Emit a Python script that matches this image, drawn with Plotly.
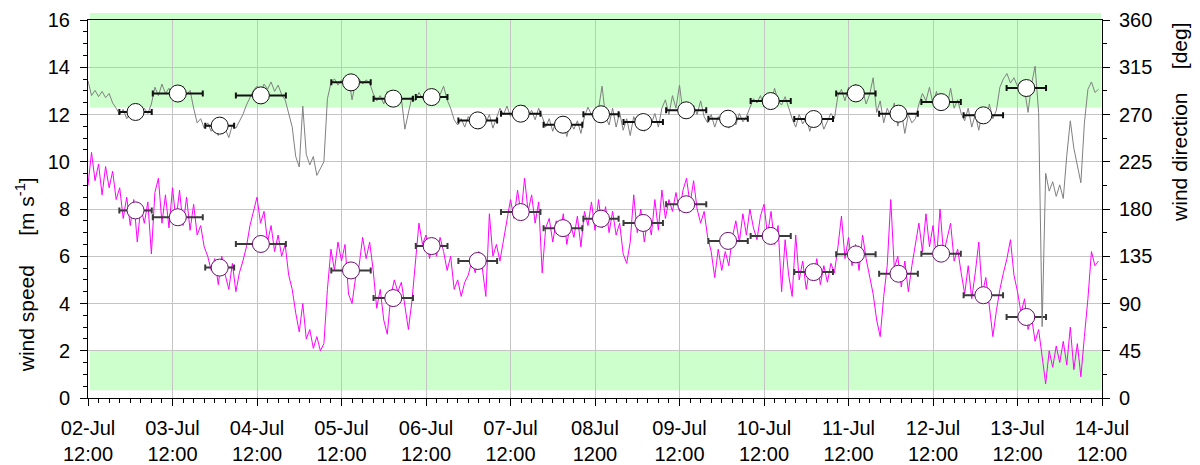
import plotly.graph_objects as go

# Hourly record, hours after 02-Jul 12:00
hours = list(range(288))

wind_speed = [
    9.0, 10.4, 9.2, 9.9, 8.6, 9.8, 8.9, 9.6, 8.4, 8.9, 7.6, 8.5,
    7.3, 8.4, 6.6, 8.1, 7.4, 8.3, 6.1, 8.7, 9.3, 7.4, 8.6, 7.2,
    8.9, 7.5, 8.8, 7.3, 8.5, 7.1, 8.2, 6.9, 7.3, 6.4, 6.0, 5.4,
    5.9, 4.8, 6.0, 5.2, 4.6, 5.7, 4.5, 5.3, 5.8, 6.4, 7.3, 7.9,
    8.5, 7.4, 7.9, 6.6, 7.3, 6.2, 6.9, 6.0, 6.5, 5.2, 4.6, 3.6,
    2.8, 4.0, 2.5, 2.9, 2.1, 2.6, 2.0, 2.3, 4.6, 6.3, 5.4, 6.6,
    5.8, 6.5, 4.4, 4.0, 5.1, 5.6, 6.8, 5.9, 6.6, 5.4, 3.8, 4.6,
    3.3, 2.7, 4.3, 5.0, 4.5, 4.9, 3.9, 2.9, 4.1, 5.6, 7.4, 6.5,
    6.9, 5.9, 6.7, 6.0, 6.8, 6.2, 5.4, 6.0, 4.6, 5.0, 4.3, 4.9,
    5.2, 5.8, 5.3, 6.2, 5.5, 4.3, 7.8, 6.0, 6.5, 5.8, 6.7, 7.5,
    8.4, 7.6, 8.8, 7.8, 9.3, 7.9, 8.6, 7.4, 8.3, 5.3, 7.2, 7.6,
    6.6, 7.5, 6.9, 7.8, 6.5, 7.4, 6.8, 7.7, 6.4, 7.9, 7.3, 8.3,
    7.1, 8.4, 7.2, 8.1, 7.0, 7.9, 6.9, 7.4, 6.1, 5.7, 6.6, 8.6,
    7.0, 8.0, 6.6, 7.6, 6.9, 8.4, 7.1, 8.8, 7.6, 8.4, 7.9, 8.7,
    7.9, 8.8, 9.3, 8.2, 9.2, 8.0, 7.4, 7.9, 6.8, 6.2, 5.1, 6.3,
    5.4, 6.2, 5.6, 6.8, 7.5, 6.6, 7.8, 6.9, 8.0, 7.2, 6.7, 7.7,
    8.2, 6.9, 7.9, 6.5, 7.3, 4.5, 6.7, 5.2, 4.3, 6.9, 5.0, 5.8,
    4.6, 5.5, 5.0, 5.9, 4.8, 5.6, 4.9, 5.7, 5.3, 6.4, 7.7, 5.9,
    6.8, 5.6, 6.5, 5.4, 6.9, 5.9, 5.2, 4.4, 3.3, 2.6, 4.3, 5.6,
    8.4, 5.5, 6.0, 4.7, 5.8, 4.5, 5.6, 6.6, 7.4, 6.2, 7.8, 6.4,
    7.3, 5.9, 8.0, 6.1, 6.8, 7.4, 5.8, 6.3, 5.3, 4.4, 5.6, 4.2,
    5.3, 6.6, 4.4, 5.1, 3.9, 2.6, 3.7, 4.6, 5.3, 5.9, 6.7, 5.2,
    4.5, 3.6, 4.2, 2.9, 3.4, 2.4, 2.9, 1.8, 0.6, 2.0, 1.3, 2.2,
    1.5, 2.4, 1.4, 3.0, 1.2, 2.3, 0.9, 2.6, 4.2, 6.2, 5.6, 5.8,
]

wind_dir = [
    302, 288, 293, 287, 292, 286, 290, 281, 276, 270, 275, 266,
    272, 267, 274, 269, 276, 271, 280, 296, 288, 299, 290, 295,
    287, 294, 286, 297, 289, 293, 276, 262, 266, 257, 262, 254,
    259, 250, 262, 256, 248, 260, 257, 263, 270, 279, 286, 293,
    297, 291, 299, 294, 301, 292, 298, 289, 284, 270, 258, 230,
    220, 278, 232, 222, 230, 212, 218, 225, 285, 300, 304, 298,
    303, 300, 305, 284, 301, 304, 299, 303, 300, 290, 283, 288,
    280, 292, 282, 287, 278, 286, 256, 272, 287, 283, 291, 285,
    287, 293, 286, 291, 289, 297, 284, 276, 265, 260, 266, 258,
    268, 261, 269, 256, 267, 262, 270, 257, 266, 276, 270, 278,
    268, 275, 266, 273, 279, 269, 274, 265, 276, 268, 258, 266,
    254, 265, 258, 262, 249, 263, 256, 264, 252, 268, 277, 270,
    264, 275, 297, 268, 260, 276, 258, 272, 255, 266, 250, 268,
    259, 265, 254, 268, 261, 271, 258, 276, 284, 270, 288, 276,
    298, 272, 281, 268, 279, 270, 283, 268, 262, 270, 258, 268,
    261, 270, 257, 266, 260, 271, 263, 268, 277, 285, 281, 288,
    277, 290, 280, 295, 283, 279, 287, 276, 266, 258, 270, 261,
    267, 254, 265, 259, 268, 256, 264, 271, 266, 288, 294, 283,
    296, 287, 299, 285, 293, 280, 289, 305, 272, 283, 262, 276,
    268, 281, 259, 273, 252, 270, 262, 266, 280, 290, 283, 296,
    280, 292, 274, 287, 278, 295, 276, 284, 271, 264, 276, 258,
    270, 255, 272, 262, 280, 266, 274, 296, 304, 309, 300, 305,
    297, 302, 294, 272, 299, 316, 272, 68, 214, 197, 206, 192,
    203, 190, 231, 264, 238, 222, 205, 262, 294, 301, 291, 294,
]

# Block averages: centre time, half-width of the averaging window (h)
avg_time = [13.5, 25.5, 37.4, 49.1, 74.7, 86.7, 97.6, 110.7, 122.9, 134.9, 145.7,
            157.7, 169.9, 181.8, 193.9, 206.1, 218.1, 230.2, 242.3, 254.3, 266.5]
avg_halfwidth = [4.6, 7.1, 4.1, 7.1, 5.6, 5.6, 4.5, 5.5, 5.6, 5.5, 5.0,
                 5.6, 5.7, 5.6, 5.7, 5.5, 5.6, 5.5, 5.6, 5.6, 5.6]
avg_speed = [7.94, 7.65, 5.52, 6.52, 5.40, 4.23, 6.43, 5.80, 7.87, 7.19, 7.59,
             7.41, 8.20, 6.65, 6.86, 5.33, 6.08, 5.26, 6.11, 4.35, 3.43]
avg_dir = [272.4, 290.0, 259.4, 288.2, 300.6, 285.1, 286.6, 264.4, 270.8, 260.3, 270.2,
           262.8, 274.0, 266.0, 282.8, 265.7, 290.1, 270.8, 281.8, 269.2, 295.2]

tick_hours = [0, 24, 48, 72, 96, 120, 144, 168, 192, 216, 240, 264, 288]
tick_text = ["02-Jul<br>12:00", "03-Jul<br>12:00", "04-Jul<br>12:00", "05-Jul<br>12:00",
             "06-Jul<br>12:00", "07-Jul<br>12:00", "08Jul<br>1200", "09-Jul<br>12:00",
             "10-Jul<br>12:00", "11-Jul<br>12:00", "12-Jul<br>12:00", "13-Jul<br>12:00",
             "14-Jul<br>12:00"]

# Shaded sectors (in wind-speed axis units)
band_upper = (12.3, 16.3)
band_lower = (0.33, 2.02)

FONT = "Liberation Sans, Arial, sans-serif"
Y_MAX = 16.0
X_MAX = 288.0

fig = go.Figure()

fig.add_trace(go.Scatter(x=hours, y=wind_speed, mode="lines",
                         line=dict(color="#FF00FF", width=1), yaxis="y",
                         hoverinfo="skip", showlegend=False))
fig.add_trace(go.Scatter(x=hours, y=wind_dir, mode="lines",
                         line=dict(color="#808080", width=1), yaxis="y2",
                         hoverinfo="skip", showlegend=False))

fig.add_trace(go.Scatter(
    x=avg_time, y=avg_speed, mode="markers", yaxis="y",
    marker=dict(size=17, color="white", line=dict(color="#6a1070", width=1)),
    error_x=dict(type="data", array=avg_halfwidth, color="#3a3a3a", thickness=2, width=3),
    showlegend=False))
fig.add_trace(go.Scatter(
    x=avg_time, y=avg_dir, mode="markers", yaxis="y2",
    marker=dict(size=17, color="white", line=dict(color="#111111", width=1)),
    error_x=dict(type="data", array=avg_halfwidth, color="#111111", thickness=2, width=3),
    showlegend=False))

x0p, x1p = 0.002, 0.999
for lo, hi in (band_upper, band_lower):
    fig.add_shape(type="rect", xref="paper", yref="paper",
                  x0=x0p, x1=x1p, y0=lo / Y_MAX, y1=hi / Y_MAX,
                  fillcolor="#CCFFCC", line=dict(width=0), layer="below")

axis_font = dict(family=FONT, size=20, color="black")

fig.update_layout(
    width=1200, height=465,
    margin=dict(l=88, r=98, t=20, b=67, autoexpand=False),
    paper_bgcolor="white", plot_bgcolor="rgba(0,0,0,0)",
    font=dict(family=FONT, size=20, color="black"),
    xaxis=dict(
        range=[0, X_MAX], tickmode="array", tickvals=tick_hours, ticktext=tick_text,
        ticks="outside", ticklen=7, tickwidth=1, tickcolor="black",
        showline=True, linecolor="black", linewidth=1, mirror=True,
        showgrid=True, gridcolor="#c4c4c4", gridwidth=1, zeroline=False,
        tickfont=axis_font, ticklabelstandoff=5, automargin=False,
        minor=dict(tick0=0, dtick=3, ticks="outside", ticklen=4, tickcolor="black", showgrid=False),
    ),
    yaxis=dict(
        range=[0, Y_MAX], dtick=2, tick0=0,
        ticks="outside", ticklen=7, tickwidth=1, tickcolor="black",
        showline=True, linecolor="black", linewidth=1,
        showgrid=True, gridcolor="#c4c4c4", gridwidth=1, zeroline=False,
        tickfont=axis_font, ticklabelstandoff=6, automargin=False,
        minor=dict(tick0=0, dtick=0.5, ticks="outside", ticklen=4, tickcolor="black", showgrid=False),
    ),
    yaxis2=dict(
        range=[0, 360], dtick=45, tick0=0, overlaying="y", side="right",
        ticks="outside", ticklen=7, tickwidth=1, tickcolor="black",
        showline=True, linecolor="black", linewidth=1,
        showgrid=False, zeroline=False,
        tickfont=axis_font, ticklabelstandoff=5, automargin=False,
        minor=dict(tick0=0, dtick=22.5, ticks="outside", ticklen=4, tickcolor="black", showgrid=False),
    ),
)

NB = "\u00a0"
fig.add_annotation(text="wind speed" + NB * 5 + "[m s<sup>-1</sup>]",
                   xref="paper", yref="paper", x=-0.062, y=0.325,
                   xanchor="center", yanchor="middle", textangle=-90,
                   showarrow=False, font=dict(family=FONT, size=21, color="black"))
fig.add_annotation(text="wind direction" + NB * 4 + "[deg]",
                   xref="paper", yref="paper", x=1.077, y=0.728,
                   xanchor="center", yanchor="middle", textangle=-90,
                   showarrow=False, font=dict(family=FONT, size=21, color="black"))

fig.write_html("out.html")
